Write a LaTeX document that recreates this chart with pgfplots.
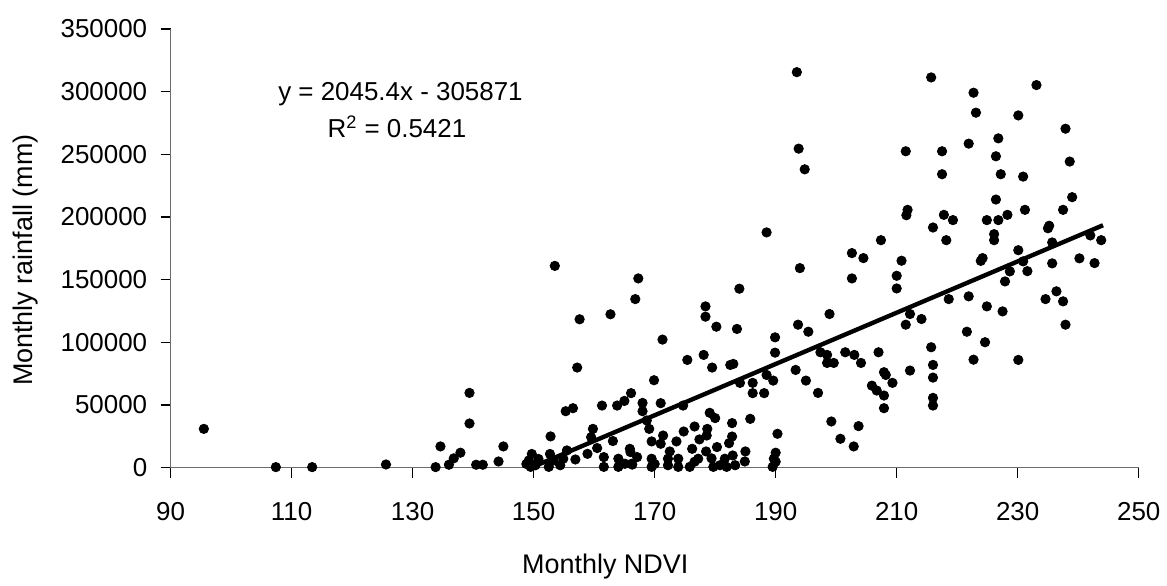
\documentclass[border=0pt]{standalone}
\usepackage{fontspec}
\setmainfont{Liberation Sans}
\usepackage{pgfplots}
\pgfplotsset{compat=1.18}
\begin{document}
\begin{tikzpicture}
\begin{axis}[
  width=485.35pt, height=220pt, scale only axis,
  xmin=90, xmax=250, ymin=0, ymax=350000,
  xtick={90,110,...,250}, ytick={0,50000,...,350000},
  scaled y ticks=false,
  yticklabel style={/pgf/number format/fixed, /pgf/number format/1000 sep={}, xshift=-3.2pt},
  axis lines*=left,
  axis line style={gray!85!black, line width=0.7pt},
  tick align=outside,
  major tick length=5pt,
  tick style={black, line width=0.6pt},
  /pgf/number format/assume math mode=true,
  every tick label/.append style={font=\fontsize{13}{15}\selectfont, text=black},
  xticklabel style={yshift=-9pt},
  xlabel={Monthly NDVI}, ylabel={Monthly rainfall (mm)},
  label style={font=\fontsize{13.5}{16}\selectfont},
  xlabel style={at={(axis description cs:0.449,-0.2409)}, anchor=base},
  ylabel style={at={(axis description cs:-0.1422,0.473)}, anchor=base},
  clip=false,
]
\addplot[only marks, mark=*, mark size=2.35pt, black] table {
x y
95.5 31000
107.4 500
113.4 500
125.6 2600
133.8 500
134.6 17000
136.0 2400
136.8 7500
137.9 12000
139.4 59700
139.4 35300
140.5 2400
141.6 2400
144.2 5000
145.0 17000
149.7 11000
149.2 5800
150.3 2000
149.5 700
148.8 3000
150.8 7000
152.7 11000
153.3 5800
152.5 700
154.4 2000
155.5 13800
154.9 7200
156.9 6600
158.9 11100
160.5 15700
161.6 8500
161.6 700
164.0 7200
164.0 700
165.9 15100
166.0 12500
165.1 3200
166.2 3200
152.8 25000
159.8 31000
159.5 24400
163.1 21300
155.3 45100
156.5 47500
161.3 49600
163.8 49600
165.0 53300
166.1 59500
157.2 79900
157.6 118400
162.7 122400
153.5 161000
166.8 134500
167.3 151000
168.0 51700
168.0 45100
171.0 51500
174.7 49600
168.7 37700
169.1 31000
169.9 69800
171.3 102200
175.4 86000
178.1 90000
178.4 128700
178.4 120500
180.2 112500
183.6 110700
184.0 142800
179.5 79900
182.5 82000
183.0 82800
179.1 43800
180.0 39600
182.8 35600
185.8 39000
176.6 32900
174.8 28900
178.7 31000
178.6 25700
177.4 22600
171.4 25700
171.0 19100
169.5 21000
173.6 21000
182.8 24900
182.3 19600
180.3 16500
172.5 13000
176.2 15100
178.5 13000
185.0 13000
167.1 8500
169.5 7200
172.2 7200
173.9 7200
177.2 7200
179.4 7500
181.6 7200
182.9 9800
184.9 5000
164.5 3000
166.3 2500
169.5 700
170.0 3000
172.2 2000
173.9 700
175.8 700
176.6 4800
179.7 700
180.8 2000
181.9 700
183.3 2000
184.1 67700
186.2 67700
186.2 59500
188.1 59500
188.5 74000
189.6 69500
189.9 104000
189.9 91800
190.3 27100
190.0 12000
189.7 7200
190.0 4800
189.5 700
188.5 187700
193.3 78000
193.7 114100
195.4 108500
195.0 69500
194.0 159200
193.5 315500
193.8 254500
194.8 238000
197.0 59700
197.4 92100
198.5 90000
198.5 83600
199.6 83600
201.5 92100
203.0 90000
204.1 83600
198.9 122600
202.6 171200
204.5 167200
202.6 151000
210.0 153100
210.0 143000
210.8 165100
207.0 92100
207.4 181500
207.9 76200
208.2 74000
209.3 67700
205.9 65500
206.7 61600
207.9 57600
207.9 47500
199.2 36900
203.7 33200
200.7 23100
202.9 17000
212.2 122600
211.5 114100
214.1 118600
212.2 77500
215.7 96100
216.0 82000
216.0 71900
216.0 55700
216.0 49600
211.5 252400
211.8 205700
211.6 201400
215.7 311300
216.0 191600
217.5 252400
217.5 234100
217.8 201700
218.2 181500
219.3 197500
218.6 134500
221.9 136700
221.6 108500
222.7 86200
221.9 258500
222.7 299100
223.1 283200
223.9 165000
224.2 167200
224.6 100100
224.9 128700
224.9 197500
226.1 186300
226.1 181500
226.4 213900
226.4 248400
226.8 262700
227.2 234100
226.8 197500
227.5 124700
227.9 148600
228.3 201700
228.7 156600
230.1 173500
230.1 281000
230.1 86000
230.9 164600
230.9 232200
231.2 205700
231.6 156800
233.1 305200
234.6 134500
235.2 193000
235.0 191000
235.7 163000
235.7 179700
236.4 140700
237.5 132700
237.5 205700
237.9 114100
237.9 270400
238.6 244200
239.0 215800
240.2 167000
242.0 185300
242.7 163200
243.8 181500
};
\addplot[black, line width=2.2pt] coordinates {(149.54,0) (244.1,193400)};
\node[anchor=base, font=\fontsize{13}{15}\selectfont] at (axis cs:128,293200) {y = 2045.4x - 305871};
\node[anchor=base, font=\fontsize{13}{15}\selectfont] at (axis cs:127.4,263300) {R\textsuperscript{2} = 0.5421};
\coordinate (bl) at (axis description cs:-0.1762,-0.2545);
\coordinate (tr) at (axis description cs:1.0261,1.0659);
\end{axis}
\path (bl) rectangle (tr);
\end{tikzpicture}
\end{document}
